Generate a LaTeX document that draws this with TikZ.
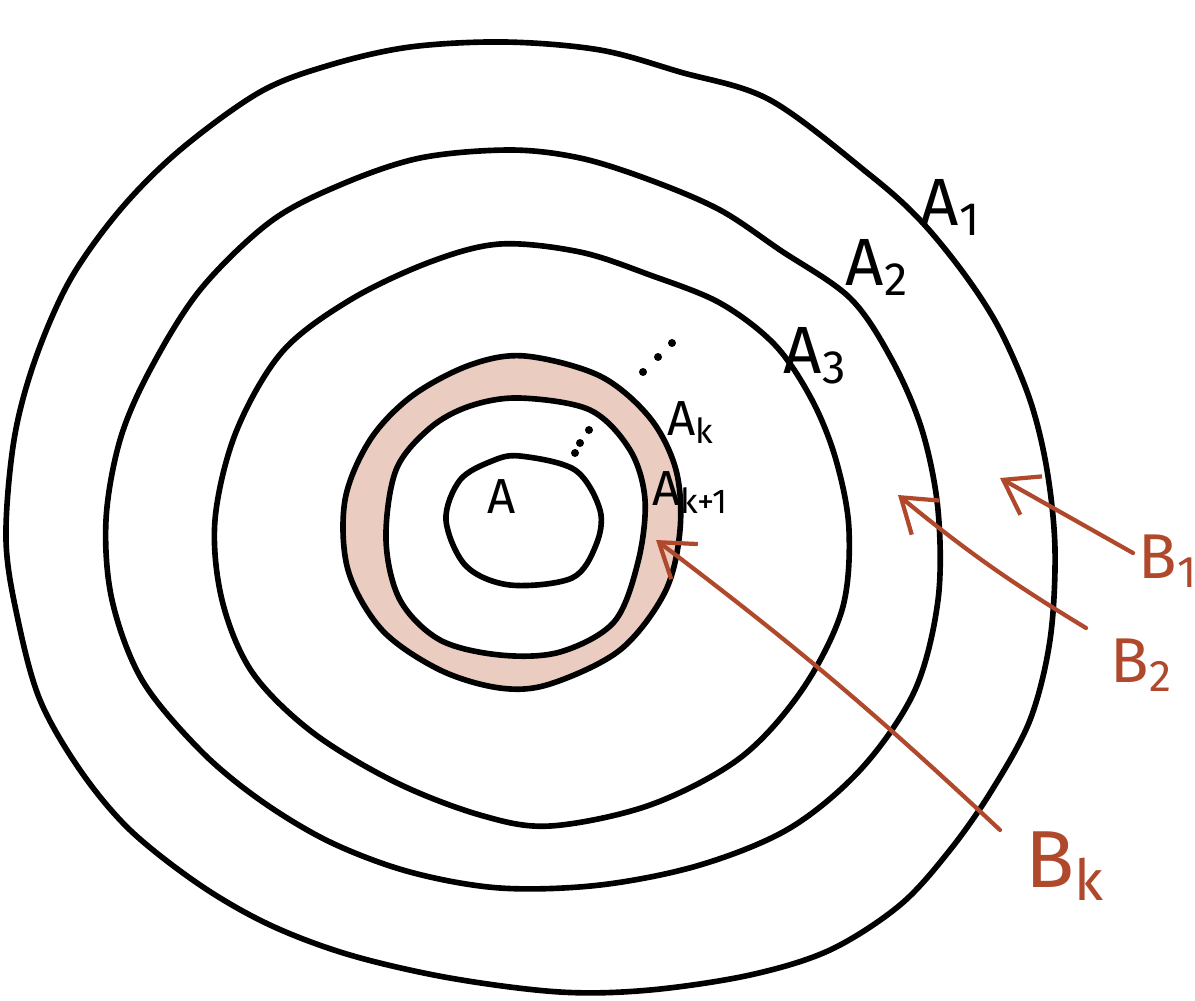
\documentclass[tikz,border=0pt]{standalone}
\usepackage{fontspec}
\setmainfont{Fira Sans}
\usetikzlibrary{arrows.meta}
\definecolor{RustRed}{HTML}{B0482B}
\definecolor{ShellPink}{HTML}{EACDC0}

\begin{document}
\begin{tikzpicture}[
        x=0.01cm, y=-0.01cm,
        ring/.style={draw=black, line width=1.6pt, line join=round},
        lab/.style={inner sep=0pt, anchor=base west, text=black},
        blab/.style={inner sep=0pt, anchor=base west, text=RustRed, font=\fontsize{18}{21}\selectfont},
        barrow/.style={draw=RustRed, line width=1.2pt, line cap=round, -{Straight Barb[length=3.2mm,width=4.4mm,line width=1.2pt]}}
    ]
        \useasboundingbox (0,0) rectangle (1195,1000);

        % outer rings
        \draw [ring] plot [smooth cycle, tension=0.55] coordinates {(505,42) (600,50) (680,72) (770,100) (870,175) (920,220) (965,275) (1000,330) (1030,400) (1047,470) (1055,550) (1050,640) (1030,720) (992,790) (950,850) (900,905) (830,950) (750,975) (650,990) (560,992) (450,978) (350,955) (270,925) (200,885) (130,830) (80,770) (40,700) (18,620) (6,540) (14,440) (35,360) (70,280) (120,210) (180,150) (260,92) (330,65) (410,47)};
        \draw [ring] plot [smooth cycle, tension=0.55] coordinates {(510,150) (580,158) (650,180) (720,210) (780,250) (850,298) (892,360) (922,430) (938,510) (938,600) (915,690) (862,768) (790,828) (700,865) (600,885) (500,888) (410,872) (330,842) (260,800) (200,750) (142,680) (112,600) (106,520) (120,440) (150,370) (200,290) (270,222) (340,185) (420,158)};
        \draw [ring] plot [smooth cycle, tension=0.55] coordinates {(500,244) (580,252) (650,275) (720,303) (775,345) (812,400) (836,460) (849,530) (842,610) (802,690) (740,758) (650,805) (550,826) (480,815) (395,782) (312,732) (252,672) (222,600) (215,520) (236,432) (282,352) (350,300) (430,262)};

        % shaded band between A_k and A_{k+1}
        \draw [ring, fill=ShellPink] plot [smooth cycle, tension=0.55] coordinates {(525,356) (600,376) (650,418) (676,470) (680,530) (665,592) (620,650) (550,684) (500,688) (440,670) (382,630) (348,570) (345,500) (370,440) (412,396) (470,365)};
        \draw [ring, fill=white] plot [smooth cycle, tension=0.55] coordinates {(520,398) (590,410) (630,450) (645,500) (638,562) (614,622) (560,652) (500,655) (440,640) (400,600) (386,540) (396,470) (430,428) (470,406)};

        % A
        \draw [ring] plot [smooth cycle, tension=0.55] coordinates {(520,456) (575,470) (600,510) (596,545) (572,578) (510,585) (466,566) (446,520) (460,480) (492,461)};

        \foreach \px/\py in {643/372, 658/357, 672/343, 575/453, 580/443, 589/430}
            \fill (\px,\py) circle (4);

        \node [lab, font=\fontsize{19}{22}\selectfont] (a1) at (920,225) {A\textsubscript{1}};
        \node [lab, font=\fontsize{19}{22}\selectfont] (a2) at (845,285) {A\textsubscript{2}};
        \node [lab, font=\fontsize{19}{22}\selectfont] (a3) at (783,373) {A\textsubscript{3}};
        \node [lab, font=\fontsize{14}{16}\selectfont] (ak) at (667,435) {A\textsubscript{k}};
        \node [lab, font=\fontsize{14}{16}\selectfont] (akk) at (652,505) {A\textsubscript{k+1}};
        \node [lab, anchor=base, font=\fontsize{14}{16}\selectfont] (a) at (502,513) {A};

        \node [blab] (b1) at (1138,578) {B\textsubscript{1}};
        \node [blab] (b2) at (1110,682) {B\textsubscript{2}};
        \node [blab, font=\fontsize{23}{26}\selectfont] (bk) at (1025,887) {B\textsubscript{k}};

        \coordinate (b1tail) at (1133,553);
        \coordinate (b1head) at (1000,478);
        \coordinate (b2tail) at (1086,628);
        \coordinate (b2head) at (898,495);
        \coordinate (bktail) at (1000,830);
        \coordinate (bkhead) at (656,540);

        \draw [barrow] (b1tail) -- (b1head);
        \draw [barrow] (b2tail) to [bend left=4] (b2head);
        \draw [barrow] (bktail) to [bend right=3] (bkhead);
    \end{tikzpicture}
\end{document}
